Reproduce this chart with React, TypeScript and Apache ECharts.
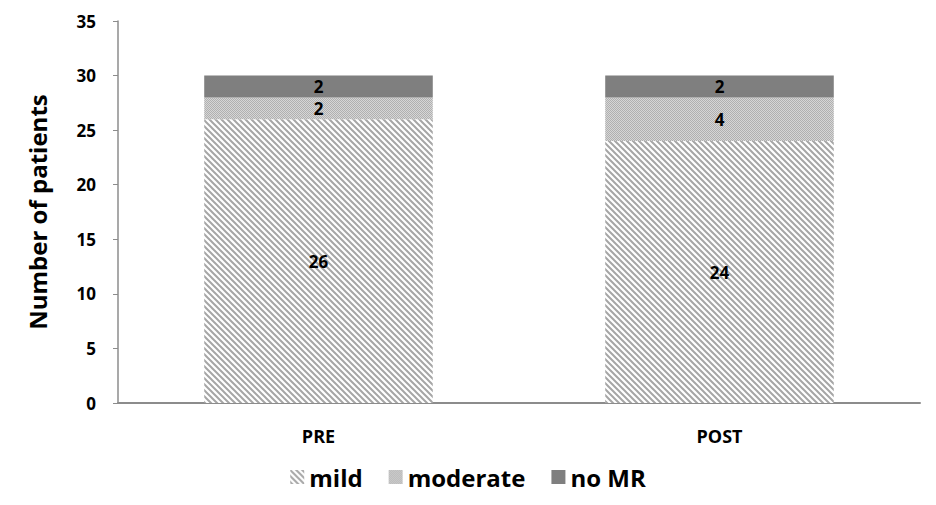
import React, { useEffect, useRef } from "react";
import * as echarts from "echarts";

const categories = ["PRE", "POST"];
const mildValues = [26, 24];
const moderateValues = [2, 4];
const noMRValues = [2, 2];
const seriesNames = ["mild", "moderate", "no MR"];
const yTicks = { min: 0, max: 35, interval: 5 };

function hatchPattern(): HTMLCanvasElement {
  const s = 6;
  const c = document.createElement("canvas");
  c.width = s;
  c.height = s;
  const ctx = c.getContext("2d")!;
  ctx.fillStyle = "#ffffff";
  ctx.fillRect(0, 0, s, s);
  ctx.strokeStyle = "#a6a6a6";
  ctx.lineWidth = 2;
  ctx.beginPath();
  ctx.moveTo(-1, -1);
  ctx.lineTo(s + 1, s + 1);
  ctx.moveTo(-1, s - 1);
  ctx.lineTo(1, s + 1);
  ctx.moveTo(s - 1, -1);
  ctx.lineTo(s + 1, 1);
  ctx.stroke();
  return c;
}

function dotPattern(): HTMLCanvasElement {
  const c = document.createElement("canvas");
  c.width = 2;
  c.height = 2;
  const ctx = c.getContext("2d")!;
  ctx.fillStyle = "#d6d6d6";
  ctx.fillRect(0, 0, 2, 2);
  ctx.fillStyle = "#b0b0b0";
  ctx.fillRect(0, 0, 1, 1);
  ctx.fillRect(1, 1, 1, 1);
  return c;
}

export default function App() {
  const ref = useRef<HTMLDivElement>(null);
  useEffect(() => {
    if (!ref.current) return;
    const chart = echarts.init(ref.current, undefined, { renderer: "svg" });
    const font = "Open Sans";
    const hatch = { image: hatchPattern().toDataURL(), repeat: "repeat" as const };
    const dots = { image: dotPattern().toDataURL(), repeat: "repeat" as const };
    const label = {
      show: true,
      position: "inside" as const,
      color: "#000",
      fontFamily: font,
      fontWeight: "bold" as const,
      fontSize: 17,
    };
    chart.setOption({
      animation: false,
      backgroundColor: "#ffffff",
      textStyle: { fontFamily: font },
      grid: { left: 110, right: 8, top: 13, bottom: 94 },
      legend: {
        bottom: 3,
        left: "center",
        itemWidth: 14,
        itemHeight: 14,
        itemGap: 26,
        icon: "rect",
        data: seriesNames,
        textStyle: { fontFamily: font, fontWeight: "bold", fontSize: 24, color: "#000" },
      },
      xAxis: {
        type: "category",
        data: categories,
        axisLine: { lineStyle: { color: "#8c8c8c", width: 2 } },
        axisTick: { show: false },
        axisLabel: { fontFamily: font, fontWeight: "bold", fontSize: 18, color: "#000", margin: 24 },
      },
      yAxis: {
        type: "value",
        min: yTicks.min,
        max: yTicks.max,
        interval: yTicks.interval,
        name: "Number of patients",
        nameLocation: "middle",
        nameGap: 69,
        nameTextStyle: { fontFamily: font, fontWeight: "bold", fontSize: 24, color: "#000" },
        axisLine: { show: true, lineStyle: { color: "#8c8c8c", width: 1.5 } },
        axisTick: { show: true, length: 5, lineStyle: { color: "#8c8c8c" } },
        splitLine: { show: false },
        axisLabel: { fontFamily: font, fontWeight: "bold", fontSize: 17, color: "#000", margin: 22 },
      },
      series: [
        {
          name: seriesNames[0],
          type: "bar",
          stack: "total",
          barWidth: "57%",
          data: mildValues,
          itemStyle: { color: hatch },
          label,
        },
        {
          name: seriesNames[1],
          type: "bar",
          stack: "total",
          data: moderateValues,
          itemStyle: { color: dots },
          label,
        },
        {
          name: seriesNames[2],
          type: "bar",
          stack: "total",
          data: noMRValues,
          itemStyle: { color: "#7f7f7f" },
          label,
        },
      ],
    });
    return () => chart.dispose();
  }, []);
  return <div ref={ref} style={{ width: 920, height: 489 }} />;
}
